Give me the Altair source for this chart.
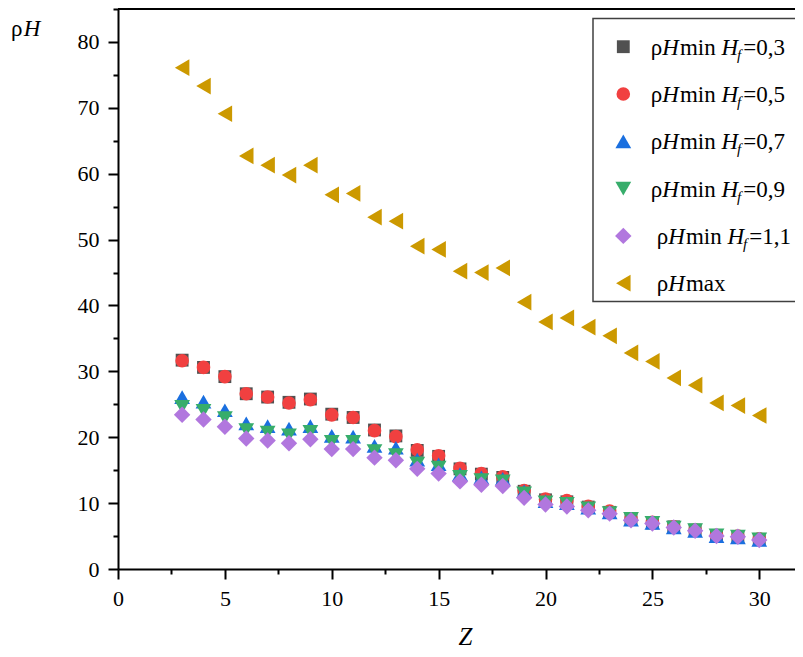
import altair as alt
import pandas as pd

# ---------------- data ----------------
Z = list(range(3, 31))

rhoH_min_03 = [31.7, 30.6, 29.2, 26.6, 26.1, 25.3, 25.8, 23.5, 23.0, 21.1, 20.2, 18.0, 17.1, 15.2,
               14.4, 13.9, 11.8, 10.5, 10.2, 9.4, 8.6, 7.6, 7.0, 6.4, 5.9, 5.1, 4.9, 4.5]
rhoH_min_05 = [31.6, 30.6, 29.2, 26.6, 26.1, 25.2, 25.7, 23.4, 23.0, 21.0, 20.1, 18.1, 17.2, 15.3,
               14.5, 14.0, 11.9, 10.6, 10.4, 9.5, 8.8, 7.6, 7.1, 6.4, 5.9, 5.1, 5.0, 4.6]
rhoH_min_07 = [26.1, 25.4, 24.1, 22.1, 21.7, 21.3, 21.7, 20.2, 20.1, 18.7, 18.4, 16.6, 15.9, 14.4,
               13.9, 13.7, 11.8, 10.3, 10.0, 9.3, 8.6, 7.5, 7.0, 6.3, 5.8, 5.0, 4.8, 4.4]
rhoH_min_09 = [24.6, 24.0, 22.9, 21.1, 20.7, 20.3, 20.8, 19.3, 19.3, 17.9, 17.3, 16.0, 15.4, 14.0,
               13.5, 13.3, 11.5, 10.1, 9.9, 9.2, 8.5, 7.6, 7.0, 6.3, 5.9, 5.1, 4.9, 4.5]
rhoH_min_11 = [23.4, 22.7, 21.6, 19.8, 19.5, 19.1, 19.7, 18.2, 18.2, 16.9, 16.5, 15.2, 14.5, 13.3,
               12.8, 12.6, 10.8, 9.8, 9.5, 8.9, 8.4, 7.4, 6.9, 6.3, 5.8, 5.0, 4.9, 4.4]
rhoH_max = [76.1, 73.3, 69.1, 62.7, 61.3, 59.8, 61.3, 56.8, 57.0, 53.4, 52.8, 49.0, 48.5, 45.2,
            45.0, 45.7, 40.5, 37.5, 38.1, 36.7, 35.4, 32.8, 31.5, 29.0, 27.9, 25.2, 24.8, 23.3]

series_keys = ["min03", "min05", "min07", "min09", "min11", "max"]
series_values = [rhoH_min_03, rhoH_min_05, rhoH_min_07, rhoH_min_09, rhoH_min_11, rhoH_max]
legend_values = ["=0,3", "=0,5", "=0,7", "=0,9", "=1,1", None]

# ---------------- styles ----------------
shapes = ["square", "circle", "triangle-up", "triangle-down", "diamond", "triangle-left"]
colors = ["#515151", "#F14040", "#1A6FDF", "#37AD6B", "#B177DE", "#CC9900"]
sizes = [165, 185, 250, 250, 270, 280]

FONT = "Liberation Serif, Tinos, Times New Roman, Times, DejaVu Serif, serif"
W, H = 684, 560
X_MAX, Y_MAX = 32, 85

df = pd.DataFrame(
    [{"series": k, "Z": z, "v": v}
     for k, vals in zip(series_keys, series_values) for z, v in zip(Z, vals)]
)

xscale = alt.Scale(domain=[0, X_MAX], nice=False, zero=False)
yscale = alt.Scale(domain=[0, Y_MAX], nice=False, zero=False)

common_axis = dict(
    domainColor="black", domainWidth=2, tickColor="black", tickWidth=2,
    labelFont=FONT, labelFontSize=22, labelColor="black", labelFlush=False,
    labelOverlap=False, labelBound=False, grid=False,
)

xaxis = alt.Axis(
    values=[i * 2.5 for i in range(13)],
    labelExpr="datum.value % 5 === 0 ? format(datum.value, 'd') : ''",
    tickSize={"condition": {"test": "datum.value % 5 === 0", "value": 10}, "value": 5},
    labelPadding=9,
    title="Z", titleFont=FONT, titleFontSize=25, titleFontStyle="italic",
    titleFontWeight="normal", titleColor="black", titleBaseline="alphabetic",
    titleY=75, titleX=347, titleAlign="center",
    **common_axis,
)
yaxis = alt.Axis(
    values=[i * 5 for i in range(18)],
    labelExpr="datum.value % 10 === 0 ? format(datum.value, 'd') : ''",
    tickSize={"condition": {"test": "datum.value % 10 === 0", "value": 10}, "value": 5},
    labelPadding=9,
    title=None,
    **common_axis,
)

base = alt.Chart(df).encode(
    x=alt.X("Z:Q", scale=xscale, axis=xaxis),
    y=alt.Y("v:Q", scale=yscale, axis=yaxis),
)

layers = []
for k, shp, col, sz in zip(series_keys, shapes, colors, sizes):
    layers.append(
        base.transform_filter(alt.datum.series == k).mark_point(
            shape=shp, filled=True, size=sz, color=col, opacity=1, strokeWidth=0
        )
    )

# top frame line at the top of the y range
top_line = alt.Chart(pd.DataFrame({"v": [Y_MAX]})).mark_rule(
    color="black", strokeWidth=2
).encode(y=alt.Y("v:Q", scale=yscale, axis=yaxis), x=alt.value(0), x2=alt.value(W))

# ---------------- custom legend (pixel layout) ----------------
FS = 23
SUB = 15
EM = {"ρ": 0.507, "H_i": 0.722, "min": 1.556, "max": 1.722, "sp": 0.25, "f_i": 0.278}

box = pd.DataFrame([{"x1": 475, "x2": 679, "y1": 9.5, "y2": 292.5}])
legend_box = alt.Chart(box).mark_rect(
    fill="white", stroke="#404040", strokeWidth=1.5
).encode(
    x=alt.X("x1:Q", scale=None, axis=None), x2="x2:Q",
    y=alt.Y("y1:Q", scale=None, axis=None), y2="y2:Q",
)

sym_rows, txt_rows = [], []
for i, (k, shp, col, sz, lv) in enumerate(zip(series_keys, shapes, colors, sizes, legend_values)):
    cy = 37.7 + 47.3 * i
    sym_rows.append({"px": 505.3, "py": cy, "shape": shp, "color": col, "size": sz})
    x0 = 532.7 if i < 4 else 538.7
    base_y = cy + 8
    x = x0
    txt_rows.append({"px": x, "py": base_y, "t": "ρ", "style": "n"})
    x += EM["ρ"] * FS
    txt_rows.append({"px": x, "py": base_y, "t": "H", "style": "i"})
    x += EM["H_i"] * FS + 1
    if lv is not None:
        txt_rows.append({"px": x, "py": base_y, "t": "min", "style": "n"})
        x += (EM["min"] + EM["sp"]) * FS
        txt_rows.append({"px": x, "py": base_y, "t": "H", "style": "i"})
        x += EM["H_i"] * FS - 1
        txt_rows.append({"px": x, "py": base_y + 5, "t": "f", "style": "s"})
        x += EM["f_i"] * SUB + 2
        txt_rows.append({"px": x, "py": base_y, "t": lv, "style": "n"})
    else:
        txt_rows.append({"px": x, "py": base_y, "t": "max", "style": "n"})

legend_syms = []
for r in sym_rows:
    legend_syms.append(
        alt.Chart(pd.DataFrame([r])).mark_point(
            shape=r["shape"], filled=True, size=r["size"], color=r["color"], opacity=1, strokeWidth=0
        ).encode(x=alt.X("px:Q", scale=None, axis=None), y=alt.Y("py:Q", scale=None, axis=None))
    )

# y axis title "ρH" at top-left
txt_rows.append({"px": -107, "py": 27, "t": "ρ", "style": "n"})
txt_rows.append({"px": -107 + EM["ρ"] * FS + 1, "py": 27, "t": "H", "style": "i"})

txt_df = pd.DataFrame(txt_rows)
style_props = {
    "n": dict(fontSize=FS, fontStyle="normal"),
    "i": dict(fontSize=FS, fontStyle="italic"),
    "s": dict(fontSize=SUB, fontStyle="italic"),
}
legend_texts = []
for st, props in style_props.items():
    legend_texts.append(
        alt.Chart(txt_df).transform_filter(alt.datum.style == st).mark_text(
            align="left", baseline="alphabetic", font=FONT, color="black", **props
        ).encode(
            x=alt.X("px:Q", scale=None, axis=None),
            y=alt.Y("py:Q", scale=None, axis=None),
            text="t:N",
        )
    )

chart = alt.layer(top_line, *layers, legend_box, *legend_syms, *legend_texts).properties(
    width=W, height=H,
    padding={"left": 110, "top": 1, "right": -7, "bottom": 80},
    autosize=alt.AutoSizeParams(type="none"),
    background="white",
).configure_view(stroke=None)

chart.save("out.html", embed_options={"renderer": "svg", "actions": False})
